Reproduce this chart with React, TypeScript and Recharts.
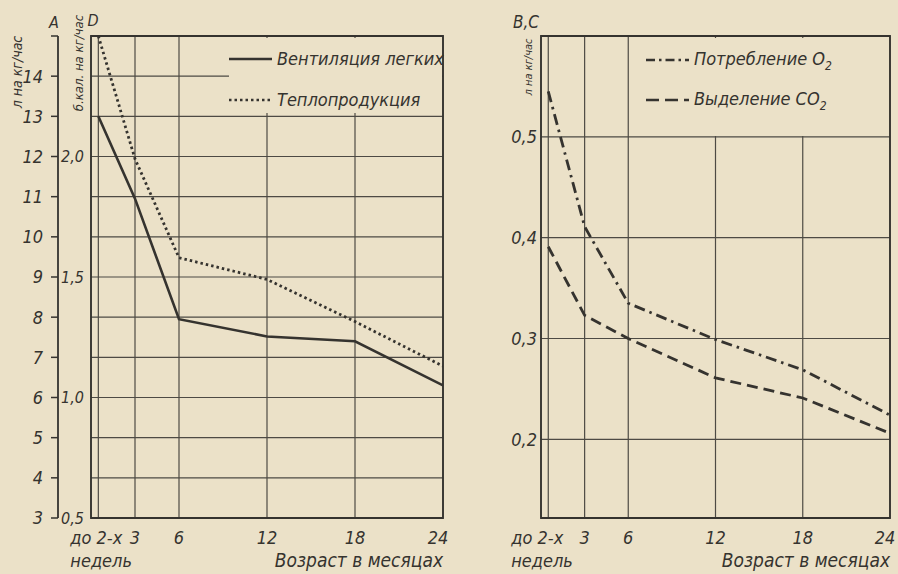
import React from "react";
import { LineChart, Line, XAxis, YAxis, CartesianGrid, ReferenceArea, Legend, Label } from "recharts";

// возраст, месяцы (0.5 = "до 2-х недель")
const ageMonths = [0.5, 3, 6, 12, 18, 24];
// A: вентиляция легких, л на кг/час
const ventilation = [13.0, 10.95, 7.95, 7.52, 7.4, 6.3];
// D: теплопродукция, б.кал. на кг/час
const heatProduction = [2.5, 1.99, 1.58, 1.49, 1.315, 1.13];
// B: потребление O2, л на кг/час
const oxygenUptake = [0.545, 0.411, 0.335, 0.299, 0.269, 0.224];
// C: выделение CO2, л на кг/час
const co2Output = [0.391, 0.323, 0.3, 0.261, 0.241, 0.206];

const xTicks = [0.5, 3, 6, 12, 18, 24];
const aTicks = [3, 4, 5, 6, 7, 8, 9, 10, 11, 12, 13, 14, 15];
const dTicks = [0.5, 1.0, 1.5, 2.0];
const bcTicks = [0.2, 0.3, 0.4, 0.5];

const PAPER = "#ebe1c8";
const INK = "#35332f";
const GRID = "#4d4a44";
const FONT = '"Liberation Sans Narrow", "DejaVu Sans Condensed", "Arial Narrow", sans-serif';

const leftData = ageMonths.map((m, i) => ({ month: m, ventilation: ventilation[i], heat: heatProduction[i] }));
const rightData = ageMonths.map((m, i) => ({ month: m, o2: oxygenUptake[i], co2: co2Output[i] }));

const DOTTED = "2.5 3";
const DASH_DOT = "11 5 2.5 5";
const DASHED = "11 6";

const comma = (v: number) => v.toFixed(1).replace(".", ",");

const txt = { fontFamily: FONT, fontStyle: "italic" as const, fill: INK };

function AgeTick(props: any) {
  const { x, y, payload, shift } = props;
  const v = payload.value;
  if (v === 0.5) {
    return (
      <g>
        <text x={x + shift} y={y + 26} fontSize={18} {...txt}>до 2-х</text>
        <text x={x + shift} y={y + 49} fontSize={18} {...txt}>недель</text>
      </g>
    );
  }
  return (
    <text x={v === 24 ? x - 5 : x} y={y + 26} fontSize={18} textAnchor="middle" {...txt}>
      {v}
    </text>
  );
}

function SeriesLegend({ items, rowH, padTop }: any) {
  return (
    <div style={{ fontFamily: FONT, fontStyle: "italic", color: INK, fontSize: 18, paddingTop: padTop }}>
      {items.map((it: any) => (
        <div key={it.key} style={{ display: "flex", alignItems: "center", height: rowH, whiteSpace: "nowrap" }}>
          <svg width={43} height={10} style={{ flex: "none" }}>
            <line x1={0} y1={5} x2={43} y2={5} stroke={INK} strokeWidth={2.6} strokeDasharray={it.dash} />
          </svg>
          <span style={{ marginLeft: 5 }}>{it.label}</span>
        </div>
      ))}
    </div>
  );
}

const leftLegend = [
  { key: "ventilation", label: "Вентиляция легких", dash: undefined },
  { key: "heat", label: "Теплопродукция", dash: DOTTED },
];
const rightLegend = [
  { key: "o2", label: <>Потребление O<sub style={{ fontSize: 12 }}>2</sub></>, dash: "9 4 2.5 4" },
  { key: "co2", label: <>Выделение CO<sub style={{ fontSize: 12 }}>2</sub></>, dash: "13 6" },
];

function AgeTitle(props: any) {
  const vb = props.viewBox;
  return (
    <text x={vb.x + vb.width} y={vb.y + 49} textAnchor="end" fontSize={19} {...txt}>
      Возраст в месяцах
    </text>
  );
}

export default function App() {
  return (
    <div style={{ position: "absolute", left: 0, top: 0, width: 898, height: 574, background: PAPER, overflow: "hidden" }}>
      <div style={{ position: "absolute", left: 0, top: 0 }}>
        <LineChart width={450} height={574} data={leftData} margin={{ top: 36, right: 7, bottom: 0, left: 8 }}>
          <CartesianGrid yAxisId="vent" stroke={GRID} strokeWidth={1.2} />
          <XAxis
            dataKey="month"
            type="number"
            domain={[0, 24]}
            ticks={xTicks}
            allowDataOverflow
            height={56}
            axisLine={false}
            tickLine={false}
            tickSize={0}
            tickMargin={0}
            interval={0}
            tick={(p: any) => <AgeTick {...p} shift={-28} />}
          >
            <Label content={AgeTitle} />
          </XAxis>
          <YAxis
            yAxisId="heat"
            type="number"
            domain={[0.5, 2.5]}
            ticks={dTicks}
            allowDataOverflow
            width={33}
            axisLine={false}
            tickLine={false}
            tickSize={0}
            tickMargin={7}
            interval={0}
            tickFormatter={comma}
            tick={{ ...txt, fontSize: 16 }}
          >
            <Label
              content={() => (
                <g>
                  <text transform="translate(83,63) rotate(-90)" textAnchor="middle" fontSize={13} {...txt}>
                    б.кал. на кг/час
                  </text>
                  <text x={93} y={26} textAnchor="middle" fontSize={16} {...txt}>D</text>
                </g>
              )}
            />
          </YAxis>
          <YAxis
            yAxisId="vent"
            type="number"
            domain={[3, 15]}
            ticks={aTicks}
            allowDataOverflow
            width={50}
            axisLine={{ stroke: INK, strokeWidth: 1.8 }}
            tickLine={{ stroke: INK, strokeWidth: 1.5 }}
            tickSize={7}
            tickMargin={8}
            interval={0}
            tickFormatter={(v: number) => (v === 15 ? "" : String(v))}
            tick={{ ...txt, fontSize: 18 }}
          >
            <Label
              content={() => (
                <g>
                  <text transform="translate(22,72) rotate(-90)" textAnchor="middle" fontSize={14} {...txt}>
                    л на кг/час
                  </text>
                  <text x={54} y={28} textAnchor="middle" fontSize={16} {...txt}>A</text>
                </g>
              )}
            />
          </YAxis>
          <ReferenceArea yAxisId="vent" x1={0} x2={24} y1={3} y2={15} fill="none" stroke={INK} strokeWidth={1.8} ifOverflow="visible" />
          <Line yAxisId="vent" type="linear" dataKey="ventilation" stroke={INK} strokeWidth={2.6} dot={false} isAnimationActive={false} />
          <Line yAxisId="heat" type="linear" dataKey="heat" stroke={INK} strokeWidth={2.8} strokeDasharray={DOTTED} dot={false} isAnimationActive={false} />
          <Legend
            layout="vertical"
            align="center"
            verticalAlign="middle"
            wrapperStyle={{ left: 229, top: 38, width: 213, height: 75, background: PAPER }}
            content={() => <SeriesLegend items={leftLegend} rowH={41} padTop={0} />}
          />
        </LineChart>
      </div>
      <div style={{ position: "absolute", left: 450, top: 0 }}>
        <LineChart width={448} height={574} data={rightData} margin={{ top: 36, right: 8, bottom: 0, left: 51 }}>
          <CartesianGrid stroke={GRID} strokeWidth={1.2} />
          <XAxis
            dataKey="month"
            type="number"
            domain={[0, 24]}
            ticks={xTicks}
            allowDataOverflow
            height={56}
            axisLine={false}
            tickLine={false}
            tickSize={0}
            tickMargin={0}
            interval={0}
            tick={(p: any) => <AgeTick {...p} shift={-37} />}
          >
            <Label content={AgeTitle} />
          </XAxis>
          <YAxis
            type="number"
            domain={[0.122, 0.6]}
            ticks={bcTicks}
            allowDataOverflow
            width={40}
            axisLine={false}
            tickLine={false}
            tickSize={0}
            tickMargin={4}
            interval={0}
            tickFormatter={comma}
            tick={{ ...txt, fontSize: 18 }}
          >
            <Label
              content={() => (
                <g>
                  <text transform="translate(82,67) rotate(-90)" textAnchor="middle" fontSize={11} {...txt}>
                    л на кг/час
                  </text>
                  <text x={76} y={28} textAnchor="middle" fontSize={17} {...txt}>B,C</text>
                </g>
              )}
            />
          </YAxis>
          <ReferenceArea x1={0} x2={24} y1={0.122} y2={0.6} fill="none" stroke={INK} strokeWidth={1.8} ifOverflow="visible" />
          <Line type="linear" dataKey="o2" stroke={INK} strokeWidth={2.8} strokeDasharray={DASH_DOT} dot={false} isAnimationActive={false} />
          <Line type="linear" dataKey="co2" stroke={INK} strokeWidth={2.8} strokeDasharray={DASHED} dot={false} isAnimationActive={false} />
          <Legend
            layout="vertical"
            align="center"
            verticalAlign="middle"
            wrapperStyle={{ left: 196, top: 38, width: 242, height: 98, background: PAPER }}
            content={() => <SeriesLegend items={rightLegend} rowH={40} padTop={2} />}
          />
        </LineChart>
      </div>
    </div>
  );
}
